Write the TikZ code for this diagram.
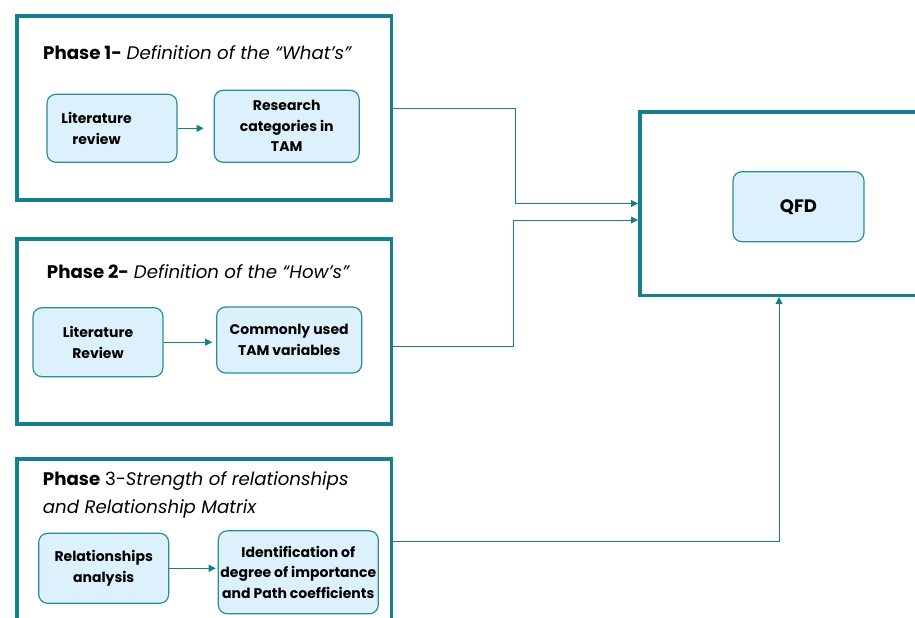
\documentclass[tikz,border=0pt]{standalone}
\usepackage{fontspec}
\setmainfont{Poppins}
\usetikzlibrary{arrows.meta,positioning,calc}
\definecolor{tealline}{HTML}{167F8C}
\definecolor{boxline}{HTML}{2A8D9A}
\definecolor{boxfill}{HTML}{DDF1FC}
\begin{document}
\begin{tikzpicture}[x=1pt,y=-1pt,
    phase/.style = {draw=tealline, line width=3.5pt, minimum width=374.5pt, minimum height=184pt, inner sep=0pt},
    task/.style = {draw=boxline, fill=boxfill, line width=1.2pt, rounded corners=9pt, align=center, inner sep=0pt, font=\bfseries\fontsize{14}{20.5}\selectfont},
    title/.style = {anchor=base west, align=left, inner sep=0pt, font=\fontsize{18.2}{28}\selectfont},
    link/.style = {draw=tealline, line width=0.9pt, -{Triangle[width=7pt,length=7pt]}}]
        \useasboundingbox (0,0) rectangle (915,618);
        \clip (0,0) rectangle (915,618);
        % phase frames
        \node[phase] at (204,108) (phase1) {};
        \node[phase, minimum height=185pt] at (204,331.6) (phase2) {};
        \node[phase] at (204,551) (phase3) {};
        \node[phase, minimum width=278.5pt, minimum height=183.5pt] at (779,203.5) (qfdbox) {};
        % titles
        \node[title] at (43,59.3) (t1) {\textbf{Phase 1-} \textit{Definition of the “What’s”}};
        \node[title] at (46.7,278.3) (t2) {\textbf{Phase 2-} \textit{Definition of the “How’s”}};
        \node[title] at (42.7,513) (t3) {\textbf{Phase} 3-\textit{Strength of relationships}\\\textit{and Relationship Matrix}};
        % steps
        \node[task, minimum width=130pt, minimum height=68pt] at (112,128.3) (lit1) {};
        \node[font=\bfseries\fontsize{14}{20.5}\selectfont, align=center] at ([xshift=-15.5pt]lit1.center) {Literature\\review};
        \node[task, minimum width=145pt, minimum height=72pt] at (286.7,126.3) (cat1) {Research\\categories in\\TAM};
        \node[task, minimum width=130pt, minimum height=69pt] at (98,342.2) (lit2) {Literature\\Review};
        \node[task, minimum width=145pt, minimum height=66pt] at (289.2,340) (var2) {Commonly used\\TAM variables};
        \node[task, minimum width=130pt, minimum height=70pt] at (103.7,568.3) (rel3) {Relationships\\analysis};
        \node[task, minimum width=160pt, minimum height=83pt] at (298.3,572.3) (deg3) {Identification of\\degree of importance\\and Path coefficients};
        \node[task, minimum width=131pt, minimum height=70pt, font=\bfseries\fontsize{18}{22}\selectfont] at (798.5,206.7) (qfd) {QFD};
        % arrows
        \draw[link, shorten >=10pt] (lit1.east) -- (lit1.east -| cat1.west);
        \draw[link, shorten >=4pt] (lit2.east) -- (lit2.east -| var2.west);
        \draw[link, shorten >=2pt] (rel3.east) -- (rel3.east -| deg3.west);
        \draw[link] (phase1.east) -- ++(122,0) |- (qfdbox.west);
        \draw[link] ([yshift=-15pt]phase2.east) -- ++(120,0) |- ([yshift=-16.5pt]qfdbox.west);
        \draw[link] ([yshift=-84pt]phase3.north east) -| (qfdbox.south);
\end{tikzpicture}
\end{document}
